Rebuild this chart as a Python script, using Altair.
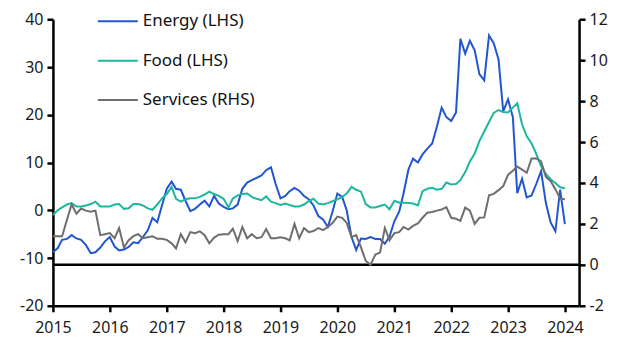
import altair as alt
import pandas as pd

# ---- data (monthly, Jan 2015 .. Jan 2024) ----
start_month = "2015-01-01"
energy = [
    -8.8, -7.9, -6.2, -6.0, -5.2, -5.9, -6.2, -7.3, -9.0, -8.8, -7.8, -6.5,
    -5.6, -7.6, -8.4, -8.2, -7.7, -6.7, -6.9, -5.6, -4.2, -1.6, -2.5, 1.0,
    4.5, 6.0, 4.5, 4.3, 2.0, -0.2, 0.3, 1.2, 2.0, 0.8, 3.0, 1.4,
    0.7, 0.2, 0.4, 1.2, 4.5, 5.8, 6.3, 6.8, 7.3, 8.4, 9.0, 5.5,
    2.5, 3.0, 4.0, 4.7, 4.1, 3.0, 2.3, 1.0, -1.2, -1.9, -3.5, -0.3,
    3.5, 2.8, 0.0, -5.6, -8.3, -5.9, -6.0, -5.6, -6.0, -6.0, -7.0, -5.5,
    -2.3, -0.3, 3.5, 8.5, 10.8, 10.0, 11.7, 12.9, 14.0, 17.5, 21.5, 19.5,
    18.7, 20.5, 35.9, 32.8, 35.5, 33.5, 28.5, 27.2, 36.6, 35.0, 31.6, 20.7,
    23.2, 19.5, 3.6, 6.6, 2.7, 3.1, 5.5, 8.2, 1.5, -2.5, -4.4, 4.3, -2.9,
]
food = [
    -1.0, 0.0, 0.6, 1.2, 1.5, 0.8, 0.8, 1.0, 1.3, 1.8, 0.8, 0.8,
    0.8, 1.2, 1.3, 0.3, 0.4, 1.3, 1.3, 1.0, 0.4, 0.1, 1.2, 2.5,
    3.4, 4.9, 2.4, 1.8, 2.3, 2.5, 2.5, 2.8, 3.3, 3.9, 3.4, 3.0,
    2.4, 0.6, 2.5, 3.1, 3.4, 3.5, 2.8, 2.4, 2.1, 2.9, 1.8, 1.5,
    1.1, 1.4, 1.1, 0.8, 0.8, 1.2, 1.9, 2.4, 1.4, 1.2, 1.5, 1.9,
    2.3, 2.8, 3.5, 4.9, 4.3, 3.9, 1.3, 0.6, 0.6, 0.9, 1.2, 0.2,
    2.0, 1.6, 1.6, 1.5, 1.4, 1.0, 4.0, 4.5, 4.7, 4.3, 4.5, 5.8,
    5.4, 5.5, 6.3, 8.0, 10.2, 11.9, 14.5, 16.5, 18.5, 20.4, 21.0, 20.6,
    20.5, 21.5, 22.4, 18.0, 15.5, 14.0, 11.8, 9.2, 7.6, 6.5, 5.7, 4.8, 4.6,
]
services = [
    1.4, 1.4, 1.4, 2.2, 2.95, 2.5, 2.75, 2.65, 2.6, 2.65, 1.45, 1.5,
    1.55, 1.3, 1.8, 0.85, 1.2, 1.4, 1.5, 1.3, 1.35, 1.4, 1.28, 1.27,
    1.22, 1.05, 0.8, 1.5, 1.1, 1.6, 1.55, 1.64, 1.45, 1.05, 1.33, 1.47,
    1.49, 1.5, 1.77, 1.16, 1.85, 1.3, 1.5, 1.3, 1.35, 1.75, 1.3, 1.3,
    1.35, 1.3, 1.2, 2.0, 1.3, 1.8, 1.6, 1.65, 1.8, 1.7, 1.85, 2.04,
    2.36, 2.3, 2.05, 1.35, 1.45, 0.85, 0.2, 0.0, 0.5, 0.6, 1.8, 1.2,
    1.55, 1.6, 1.85, 1.72, 1.9, 2.02, 2.3, 2.55, 2.58, 2.65, 2.7, 2.82,
    2.3, 2.25, 2.15, 2.8, 2.65, 2.0, 2.3, 2.32, 3.4, 3.47, 3.65, 3.85,
    4.4, 4.6, 4.8, 4.65, 4.5, 5.2, 5.2, 5.05, 4.3, 4.1, 3.7, 3.25, 3.2,
]
series_names = ["Energy (LHS)", "Food (LHS)", "Services (RHS)"]
series_colors = ["#2256D0", "#1DB6A1", "#6E6E6E"]
year_ticks = list(range(2015, 2025))
lhs_ticks = [-20, -10, 0, 10, 20, 30, 40]
rhs_ticks = [-2, 0, 2, 4, 6, 8, 10, 12]
zero_line = [0]

months = list(pd.date_range(start_month, periods=len(energy), freq="MS"))
lhs = pd.DataFrame({
    "date": months + months,
    "value": energy + food,
    "series": [series_names[0]] * len(energy) + [series_names[1]] * len(food),
})
rhs = pd.DataFrame({"date": months, "value": services, "series": series_names[2]})
ref = pd.DataFrame({"ref": zero_line})

FONT = "Noto Sans"

x_enc = alt.X(
    "date:T",
    scale=alt.Scale(domain=[alt.DateTime(year=2015, month=1, date=1),
                            alt.DateTime(year=2024, month=4, date=1)]),
    axis=alt.Axis(values=[alt.DateTime(year=y, month=1, date=1) for y in year_ticks],
                  format="%Y", title=None, labelPadding=8, labelFlush=False,
                  labelOverlap=False),
)

color_enc = alt.Color(
    "series:N",
    scale=alt.Scale(domain=series_names, range=series_colors),
    legend=alt.Legend(
        title=None, orient="none", legendX=44, legendY=-19,
        symbolType="stroke", symbolSize=1600, symbolStrokeWidth=2,
        labelFont=FONT, labelFontSize=17, labelColor="#111111",
        labelOffset=4, rowPadding=10.5,
    ),
)

lhs_scale = alt.Scale(domain=[-20, 40], nice=False, zero=False)
rhs_scale = alt.Scale(domain=[-2, 12], nice=False, zero=False)
lhs_axis = alt.Axis(values=lhs_ticks, title=None, orient="left",
                    labelExpr="'' + datum.value", labelPadding=4)
rhs_axis = alt.Axis(values=rhs_ticks, title=None, orient="right",
                    labelExpr="'' + datum.value", labelPadding=4)

left = alt.Chart(lhs).mark_line(strokeWidth=2).encode(
    x=x_enc,
    y=alt.Y("value:Q", scale=lhs_scale, axis=lhs_axis),
    color=color_enc,
)

zero_rule = alt.Chart(ref).mark_rule(color="black", strokeWidth=2.5).encode(
    y=alt.Y("ref:Q", scale=rhs_scale, axis=rhs_axis),
)
right_line = alt.Chart(rhs).mark_line(strokeWidth=2).encode(
    x=x_enc,
    y=alt.Y("value:Q", scale=rhs_scale, axis=rhs_axis),
    color=color_enc,
)
right = alt.layer(zero_rule, right_line)

chart = (
    alt.layer(left, right)
    .resolve_scale(y="independent")
    .properties(
        width=527, height=287, autosize="none",
        padding={"left": 45, "top": 11, "right": 40, "bottom": 35},
    )
    .configure_view(stroke=None)
    .configure_axis(
        domainColor="black", domainWidth=2.5,
        tickColor="black", tickWidth=2.5, tickSize=6,
        labelFont=FONT, labelFontSize=16, labelColor="#1a1a1a",
        grid=False,
    )
)

chart.save("out.html", embed_options={"renderer": "svg", "actions": False})
